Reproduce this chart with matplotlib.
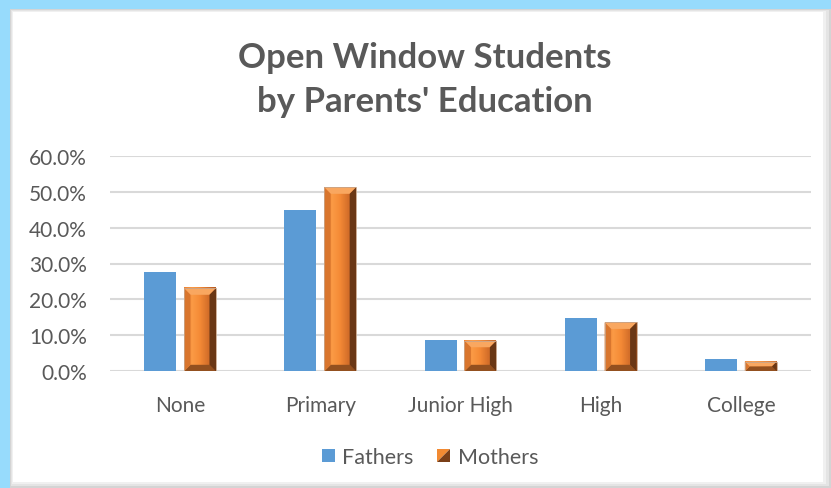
import matplotlib
matplotlib.use("Agg")
import matplotlib.pyplot as plt
import numpy as np
from matplotlib.patches import Rectangle, Polygon
from matplotlib.legend_handler import HandlerBase
from matplotlib.colors import LinearSegmentedColormap

plt.rcParams['font.family'] = ['Lato', 'DejaVu Sans']

categories = ["None", "Primary", "Junior High", "High", "College"]
fathers = [0.277, 0.448, 0.088, 0.148, 0.034]
mothers = [0.231, 0.512, 0.085, 0.136, 0.027]
yticks = [0.0, 0.1, 0.2, 0.3, 0.4, 0.5, 0.6]
title = "Open Window Students\nby Parents' Education"

W, H = 831, 489
fig = plt.figure(figsize=(W / 100, H / 100), dpi=100)
fig.patch.set_facecolor("#97DBFC")


def px_rect(x0, y0, x1, y1, color, z=0):
    fig.add_artist(Rectangle((x0 / W, (H - y1) / H), (x1 - x0) / W, (y1 - y0) / H,
                             transform=fig.transFigure, facecolor=color, edgecolor="none", zorder=z))


# panel with soft shadow (pixel coords, y downwards)
px_rect(10, 10, 831, 489, "#D4D4D4")
px_rect(11, 11, 829, 487, "#E4E4E4")
px_rect(12, 12, 826, 485, "#F0F0F0")
px_rect(13, 13, 823, 483, "white")

ax_l, ax_r, ax_t, ax_b = 110, 811, 156.7, 372.3
ax = fig.add_axes([ax_l / W, (H - ax_b) / H, (ax_r - ax_l) / W, (ax_b - ax_t) / H])
ax.set_facecolor("none")

x = np.arange(len(categories))
bw = 0.228
off = 0.142
blue = "#5B9BD5"
ax.bar(x - off, fathers, bw, color=blue, zorder=3)
mbars = ax.bar(x + off, mothers, bw, color="#F28A32", zorder=3)

# bevel decoration on mothers bars
px_x = (ax_r - ax_l) / (len(categories))
px_y = (ax_b - ax_t) / 0.6
cmap = LinearSegmentedColormap.from_list("o", ["#EE8232", "#FB9A45", "#F48A36", "#D6702A", "#B55A22"])
for rect in mbars:
    x0 = rect.get_x(); x1 = x0 + rect.get_width(); y0 = 0; y1 = rect.get_height()
    hpx = y1 * px_y; wpx = rect.get_width() * px_x
    b = min(6.5, hpx / 2, wpx / 2)
    dx = b / px_x; dy = b / px_y
    ax.imshow(np.linspace(0, 1, 50).reshape(1, -1), extent=(x0, x1, y0, y1), aspect="auto",
              cmap=cmap, zorder=4)
    polys = [
        ([(x0, y1), (x1, y1), (x1 - dx, y1 - dy), (x0 + dx, y1 - dy)], "#F9A760"),
        ([(x0, y0), (x1, y0), (x1 - dx, y0 + dy), (x0 + dx, y0 + dy)], "#93501F"),
        ([(x0, y0), (x0 + dx, y0 + dy), (x0 + dx, y1 - dy), (x0, y1)], "#D9762E"),
        ([(x1, y0), (x1 - dx, y0 + dy), (x1 - dx, y1 - dy), (x1, y1)], "#6A3715"),
    ]
    for pts, c in polys:
        ax.add_patch(Polygon(pts, closed=True, facecolor=c, edgecolor="none", zorder=5))
    ax.add_patch(Rectangle((x0, y0), x1 - x0, y1, facecolor="none", edgecolor="#C8A58A",
                           linewidth=0.6, zorder=6))

ax.set_xlim(-0.5, len(categories) - 0.5)
ax.set_ylim(0, 0.6)

ax.set_yticks(yticks)
ax.set_yticklabels([f"{v * 100:.1f}%" for v in yticks])
ax.set_xticks(x)
ax.set_xticklabels(categories)
ax.grid(axis="y", color="#D9D9D9", linewidth=1.5, zorder=0)
ax.set_axisbelow(True)
for s in ax.spines.values():
    s.set_visible(False)
ax.tick_params(axis="both", length=0, labelsize=15, labelcolor="#595959")
ax.tick_params(axis="y", pad=16.5)
ax.tick_params(axis="x", pad=17)

fig.text(425 / W, 1 - 80 / H, title, ha="center", va="center", fontsize=25,
         fontweight="bold", color="#595959", linespacing=1.45)


class BevelHandler(HandlerBase):
    def create_artists(self, legend, orig_handle, xd, yd, width, height, fontsize, trans):
        s = min(width, height)
        x0 = -xd + (width - s) / 2
        y0 = -yd
        tl = Polygon([(x0, y0), (x0, y0 + s), (x0 + s, y0 + s)], closed=True,
                     facecolor="#F28A32", edgecolor="none", transform=trans)
        br = Polygon([(x0, y0), (x0 + s, y0), (x0 + s, y0 + s)], closed=True,
                     facecolor="#7A3F18", edgecolor="none", transform=trans)
        return [tl, br]


class SquareHandler(HandlerBase):
    def create_artists(self, legend, orig_handle, xd, yd, width, height, fontsize, trans):
        s = min(width, height)
        x0 = -xd + (width - s) / 2
        return [Rectangle((x0, -yd), s, s, facecolor=blue, edgecolor="none", transform=trans)]


hf = Rectangle((0, 0), 1, 1)
hm = Polygon([(0, 0), (1, 1), (0, 1)])
leg = fig.legend([hf, hm], ["Fathers", "Mothers"], loc="center", bbox_to_anchor=(430 / W, 1 - 458 / H),
                 ncol=2, frameon=False, fontsize=15.5, handlelength=0.6, handleheight=0.6,
                 handletextpad=0.35, columnspacing=1.1,
                 handler_map={Rectangle: SquareHandler(), Polygon: BevelHandler()})
for t in leg.get_texts():
    t.set_color("#595959")

fig.savefig("out.png", dpi=100, facecolor=fig.get_facecolor())
